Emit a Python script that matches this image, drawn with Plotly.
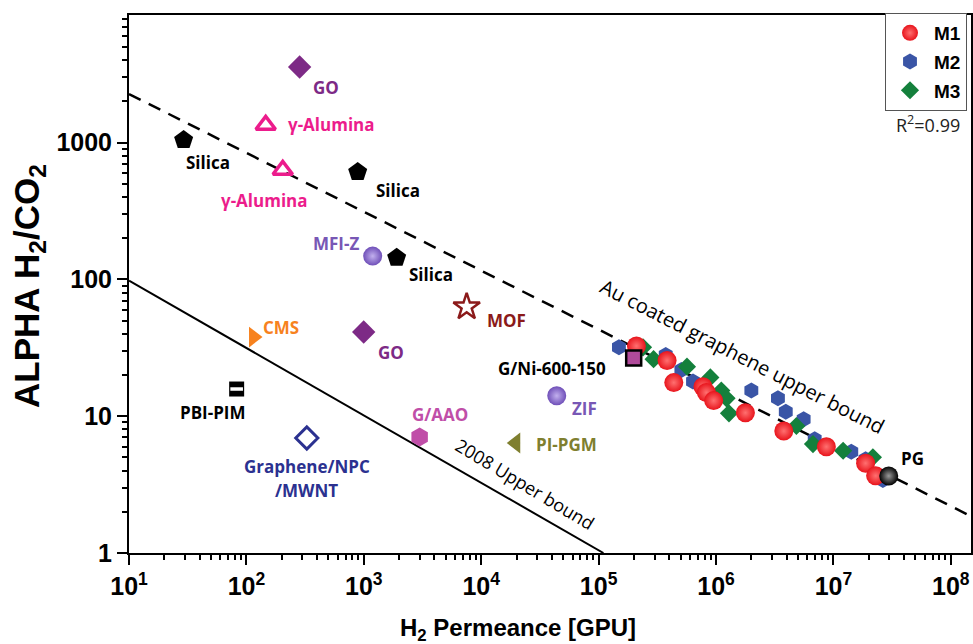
import plotly.graph_objects as go

# ---------------- data ----------------
m1_x = [2.10e5, 3.83e5, 4.37e5, 7.74e5, 8.28e5, 9.55e5, 1.78e6, 3.78e6, 8.71e6, 1.88e7, 2.29e7]
m1_y = [32.6, 25.5, 17.6, 16.4, 14.9, 13.0, 10.6, 7.79, 5.98, 4.53, 3.67]
m2_x = [1.49e5, 3.73e5, 5.07e5, 6.37e5, 2.0e6, 3.37e6, 3.93e6, 5.58e6, 6.93e6, 1.42e7, 1.88e7, 2.64e7]
m2_y = [31.9, 28.0, 21.8, 17.9, 15.4, 13.5, 10.8, 9.49, 6.78, 5.50, 4.84, 3.42]
m3_x = [2.39e5, 2.94e5, 5.66e5, 8.95e5, 1.11e6, 1.23e6, 1.29e6, 4.84e6, 6.70e6, 1.21e7, 2.17e7]
m3_y = [31.9, 26.1, 23.0, 19.2, 15.4, 13.5, 10.5, 8.48, 6.26, 5.59, 5.01]

lit_names = ["GO", "γ-Alumina", "γ-Alumina", "Silica", "Silica", "MFI-Z", "Silica", "MOF",
             "CMS", "GO", "PBI-PIM", "Graphene/NPC/MWNT", "G/AAO", "ZIF", "PI-PGM",
             "G/Ni-600-150", "PG"]
lit_x = [284, 146, 204, 29.2, 887, 1190, 1905, 7520, 115, 998, 82.6, 327, 2990, 44000,
         19700, 1.99e5, 2.96e7]
lit_y = [3570, 1345, 631, 1045, 610, 148, 144, 62.9, 37.9, 41.3, 15.8, 6.93, 7.05, 14.1,
         6.37, 26.6, 3.66]

au_bound_x = [10, 1.5e8]
au_bound_y = [2265, 1.85]
robeson_x = [10, 1.1e5]
robeson_y = [98, 1]

x_tickvals = [1e1, 1e2, 1e3, 1e4, 1e5, 1e6, 1e7, 1e8]
x_ticktext = ["10<sup>%d</sup>" % k for k in range(1, 9)]
y_tickvals = [1, 10, 100, 1000]
y_ticktext = ["1", "10", "100", "1000"]

# ---------------- styles ----------------
PURPLE = "#7d2a86"
PINK = "#ec1c8c"
VIOLET = "#7857b5"
lit_style = [
    dict(symbol="diamond", size=18, color=PURPLE),
    dict(symbol="triangle-up-open", size=17, color=PINK, lw=3.5),
    dict(symbol="triangle-up-open", size=17, color=PINK, lw=3.5),
    dict(symbol="pentagon", size=20, color="black"),
    dict(symbol="pentagon", size=20, color="black"),
    dict(symbol="circle", size=19, color="#6f4fb8", grad="#c2b0ee"),
    dict(symbol="pentagon", size=20, color="black"),
    dict(symbol="star-open", size=20, color="#8b1a1a", lw=2.5),
    dict(symbol="triangle-right", size=18, color="#f7821e"),
    dict(symbol="diamond", size=18, color=PURPLE),
    dict(symbol="square", size=15, color="black"),
    dict(symbol="diamond-open", size=17, color="#2b3190", lw=3),
    dict(symbol="hexagon", size=19, color="#c04ea8"),
    dict(symbol="circle", size=19, color="#6f4fb8", grad="#c2b0ee"),
    dict(symbol="triangle-left", size=18, color="#7f7f2f"),
    dict(symbol="square", size=15, color="#b04a9a", lc="black", lw=2.5),
    dict(symbol="circle", size=19, color="black", grad="#9a9a9a"),
]

fig = go.Figure()

# bounds
fig.add_trace(go.Scatter(x=au_bound_x, y=au_bound_y, mode="lines",
                         line=dict(color="black", width=2.5, dash="13px,9px"),
                         showlegend=False, hoverinfo="skip"))
fig.add_trace(go.Scatter(x=robeson_x, y=robeson_y, mode="lines",
                         line=dict(color="black", width=2),
                         showlegend=False, hoverinfo="skip"))

# M series (draw blue, green, then red on top)
fig.add_trace(go.Scatter(x=m2_x, y=m2_y, mode="markers", name="<b>M2</b>", legendrank=2,
                         legendgroup="m2",
                         marker=dict(symbol="hexagon", size=16, color="#3a55a6")))
fig.add_trace(go.Scatter(x=m3_x, y=m3_y, mode="markers", name="<b>M3</b>", legendrank=3,
                         legendgroup="m3",
                         marker=dict(symbol="diamond", size=14, color="#14803c")))
fig.add_trace(go.Scatter(x=m1_x, y=m1_y, mode="markers", name="<b>M1</b>", legendrank=1,
                         legendgroup="m1",
                         marker=dict(symbol="circle", size=19, color="#e8141c",
                                     gradient=dict(type="radial", color="#ff7070"))))

# literature points
for i, st in enumerate(lit_style):
    mk = dict(symbol=st["symbol"], size=st["size"], color=st["color"])
    if "grad" in st:
        mk["gradient"] = dict(type="radial", color=st["grad"])
    if "lw" in st:
        mk["line"] = dict(width=st["lw"], color=st.get("lc", st["color"]))
    fig.add_trace(go.Scatter(x=[lit_x[i]], y=[lit_y[i]], mode="markers", marker=mk,
                             name=lit_names[i], showlegend=False))
    if lit_names[i] == "PBI-PIM":
        fig.add_trace(go.Scatter(x=[lit_x[i]], y=[lit_y[i]], mode="markers",
                                 marker=dict(symbol="line-ew", size=9,
                                             line=dict(color="white", width=3.5)),
                                 showlegend=False, hoverinfo="skip"))

# ---------------- layout ----------------
L, R, T, B = 129.0, 971.0, 15.0, 553.0


def pp(px, py):
    return (px - L) / (R - L), (B - py) / (B - T)


labels = [
    ("GO", PURPLE, 326, 87), ("γ-Alumina", PINK, 331, 124), ("Silica", "black", 208, 162),
    ("γ-Alumina", PINK, 264, 200), ("Silica", "black", 398, 190), ("MFI-Z", VIOLET, 336, 243),
    ("Silica", "black", 431, 274), ("MOF", "#8b1a1a", 506, 320), ("CMS", "#f7821e", 281, 327),
    ("GO", PURPLE, 391, 352), ("PBI-PIM", "black", 213, 412), ("G/AAO", "#c04ea8", 440, 414),
    ("ZIF", VIOLET, 584, 408), ("PI-PGM", "#7f7f2f", 566, 444),
    ("Graphene/NPC", "#2b3190", 307, 466), ("/MWNT", "#2b3190", 306, 490),
    ("G/Ni-600-150", "black", 552, 368), ("PG", "black", 912, 458),
]
annots = []


def add_ann(text, px, py, font, angle=0):
    x, y = pp(px, py)
    annots.append(dict(text=text, x=x, y=y, xref="paper", yref="paper", showarrow=False,
                       xanchor="center", yanchor="middle", textangle=angle, font=font))


for txt, col, px, py in labels:
    add_ann("<b>%s</b>" % txt, px, py, dict(family="Open Sans", size=17, color=col))

add_ann("Au coated graphene upper bound", 743, 356,
        dict(family="Open Sans", size=20, color="black"), 27)
add_ann("2008 Upper bound", 525, 484, dict(family="Open Sans", size=18, color="black"), 31)
add_ann("R<sup>2</sup>=0.99", 928, 124, dict(family="Open Sans", size=18, color="#222"))
add_ann("<b>H<sub>2</sub> Permeance [GPU]</b>", 518, 629,
        dict(family="Liberation Sans", size=24, color="black"))
add_ann("<b>ALPHA H<sub>2</sub>/CO<sub>2</sub></b>", 29, 286,
        dict(family="Liberation Sans", size=35, color="black"), -90)

x_minor = [m * 10 ** k for k in range(1, 9) for m in range(2, 10)]
y_minor = [m * 10 ** k for k in range(0, 4) for m in range(2, 10)]

fig.update_layout(
    width=973, height=644,
    margin=dict(l=L, r=973 - R, t=T, b=644 - B, autoexpand=False),
    paper_bgcolor="white", plot_bgcolor="white",
    annotations=annots,
    legend=dict(x=pp(885, 0)[0], y=pp(0, 13)[1], xanchor="left", yanchor="top",
                bordercolor="#555", borderwidth=1, bgcolor="white",
                font=dict(family="Liberation Sans", size=19, color="black"),
                traceorder="grouped", tracegroupgap=1, itemwidth=38),
    xaxis=dict(type="log", range=[1, 1 + (R - L) / 117.4], showgrid=False, zeroline=False,
               automargin=False,
               showline=True, linecolor="black", linewidth=2, mirror=True,
               ticks="outside", ticklen=10, tickwidth=2, tickcolor="black",
               tickmode="array", tickvals=x_tickvals, ticktext=x_ticktext,
               tickfont=dict(family="Liberation Sans", size=25, color="black", weight="bold"),
               minor=dict(tickmode="array", tickvals=x_minor, ticks="outside", ticklen=5,
                          tickwidth=1.5, tickcolor="black", showgrid=False)),
    yaxis=dict(type="log", range=[0, (B - T) / 136.8], showgrid=False, zeroline=False,
               automargin=False,
               showline=True, linecolor="black", linewidth=2, mirror=True,
               ticks="outside", ticklen=10, tickwidth=2, tickcolor="black",
               tickmode="array", tickvals=y_tickvals, ticktext=y_ticktext,
               tickfont=dict(family="Liberation Sans", size=25, color="black", weight="bold"),
               minor=dict(tickmode="array", tickvals=y_minor, ticks="outside", ticklen=5,
                          tickwidth=1.5, tickcolor="black", showgrid=False)),
)

fig.write_html("out.html", config={"displayModeBar": False},
               post_script="document.body.style.margin='0';document.body.style.overflow='hidden';")
